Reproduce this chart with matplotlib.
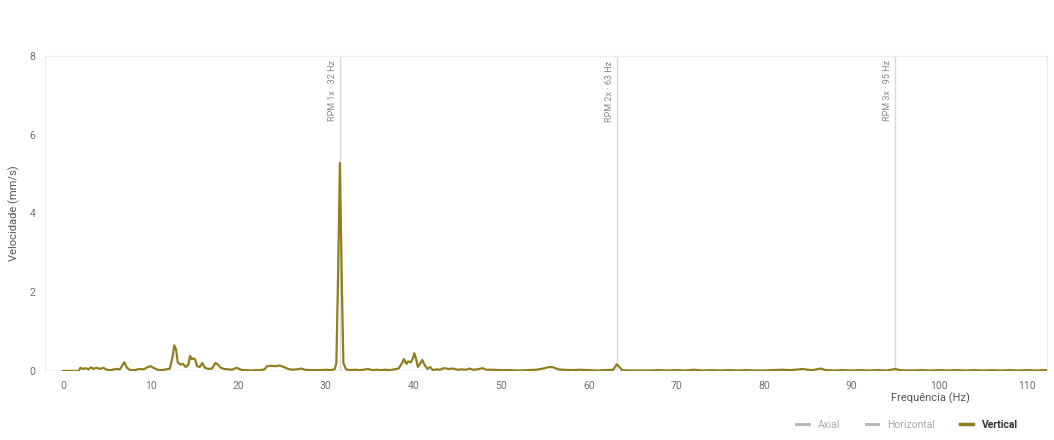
import matplotlib
matplotlib.use("Agg")
import matplotlib.pyplot as plt
from matplotlib.lines import Line2D

plt.rcParams["font.family"] = ["Roboto", "DejaVu Sans"]

freq = [0, 1.8, 2.0, 2.3, 2.6, 2.9, 3.2, 3.5, 3.8, 4.2, 4.6, 5.0, 5.5, 6.0, 6.5, 7.0, 7.3, 7.7,
        8.2, 8.7, 9.2, 9.7, 10.0, 10.4, 10.8, 11.3, 11.8, 12.2, 12.5, 12.7, 12.9, 13.1, 13.4,
        13.7, 14.0, 14.3, 14.5, 14.7, 14.9, 15.1, 15.3, 15.6, 15.9, 16.2, 16.6, 17.0, 17.4,
        17.7, 18.0, 18.4, 18.8, 19.3, 19.8, 20.1, 20.5, 21.0, 21.5, 22.0, 22.5, 23.0, 23.3,
        23.7, 24.2, 24.7, 25.2, 25.7, 26.2, 26.7, 27.2, 27.6, 28.2, 28.8, 29.4, 30.0, 30.5,
        31.0, 31.2, 31.4, 31.6, 31.8, 32.0, 32.3, 32.8, 33.3, 33.8, 34.3, 34.8, 35.3, 35.8,
        36.3, 36.8, 37.3, 37.8, 38.3, 38.7, 38.9, 39.2, 39.4, 39.7, 39.9, 40.1, 40.3, 40.5,
        40.8, 41.0, 41.3, 41.6, 41.9, 42.2, 42.6, 43.0, 43.5, 44.0, 44.5, 45.0, 45.5, 46.0,
        46.4, 46.8, 47.3, 47.9, 48.3, 49, 50, 51, 52, 53, 54, 54.8, 55.5, 56.0, 56.5, 57, 58,
        59, 60, 61, 62, 62.8, 63.2, 63.5, 63.8, 64.5, 65.5, 67, 68, 69, 70, 71, 72, 73, 74,
        75, 76, 77, 78, 79, 80, 81, 82, 83, 84, 84.5, 85, 85.5, 86, 86.5, 87, 88, 89, 90, 91,
        92, 93, 94, 95, 95.5, 96.5, 98, 99, 100, 101, 102, 103, 104, 105, 106, 107, 108,
        109, 110, 111, 112.3]
vertical = [0, 0, 0.08, 0.05, 0.07, 0.04, 0.09, 0.05, 0.08, 0.05, 0.08, 0.03, 0.02, 0.05, 0.04,
            0.22, 0.08, 0.02, 0.02, 0.05, 0.04, 0.1, 0.12, 0.07, 0.03, 0.02, 0.04, 0.06, 0.35,
            0.65, 0.55, 0.22, 0.16, 0.18, 0.1, 0.15, 0.38, 0.3, 0.32, 0.28, 0.12, 0.1, 0.2,
            0.08, 0.05, 0.06, 0.2, 0.16, 0.08, 0.05, 0.04, 0.03, 0.08, 0.05, 0.02, 0.02, 0.01,
            0.02, 0.02, 0.04, 0.12, 0.13, 0.12, 0.14, 0.1, 0.05, 0.03, 0.04, 0.06, 0.03, 0.02,
            0.02, 0.02, 0.03, 0.02, 0.04, 0.2, 2.5, 5.28, 2.5, 0.2, 0.04, 0.02, 0.03, 0.02,
            0.03, 0.05, 0.02, 0.03, 0.02, 0.03, 0.02, 0.04, 0.06, 0.2, 0.3, 0.18, 0.24, 0.22,
            0.3, 0.45, 0.3, 0.1, 0.2, 0.28, 0.14, 0.05, 0.1, 0.02, 0.04, 0.03, 0.07, 0.05,
            0.06, 0.03, 0.04, 0.03, 0.06, 0.03, 0.04, 0.07, 0.03, 0.03, 0.02, 0.02, 0.01, 0.02,
            0.03, 0.06, 0.1, 0.09, 0.04, 0.03, 0.02, 0.03, 0.02, 0.01, 0.02, 0.03, 0.17, 0.1,
            0.02, 0.01, 0.01, 0.01, 0.02, 0.01, 0.02, 0.01, 0.03, 0.01, 0.02, 0.01, 0.02, 0.01,
            0.02, 0.01, 0.01, 0.02, 0.03, 0.02, 0.04, 0.05, 0.03, 0.02, 0.04, 0.06, 0.02, 0.01,
            0.02, 0.01, 0.02, 0.01, 0.02, 0.01, 0.05, 0.02, 0.01, 0.02, 0.01, 0.02, 0.01, 0.02,
            0.01, 0.02, 0.01, 0.02, 0.01, 0.02, 0.01, 0.02, 0.01, 0.02]

rpm_freqs = [31.6, 63.2, 94.9]
rpm_labels = ["RPM 1x · 32 Hz", "RPM 2x · 63 Hz", "RPM 3x · 95 Hz"]
x_ticks = [0, 10, 20, 30, 40, 50, 60, 70, 80, 90, 100, 110]
y_ticks = [0, 2, 4, 6, 8]

line_color = "#917f1f"
tick_color = "#707070"

fig = plt.figure(figsize=(10.54, 4.4), dpi=100)
ax = fig.add_axes([0.0427, 0.157, 0.9507, 0.716])

for f, lab in zip(rpm_freqs, rpm_labels):
    ax.axvline(f, color="#d6d9dd", lw=1, zorder=1)
    ax.text(f - 0.3, 7.88, lab, rotation=90, ha="right", va="top",
            fontsize=6.5, color="#8a8a8a")

ax.plot(freq, vertical, color=line_color, lw=1.6, zorder=3)
ax.axhline(0, color="#cccccc", lw=1, zorder=2)

ax.set_xlim(-2.05, 112.3)
ax.set_ylim(0, 8)
ax.set_xticks(x_ticks)
ax.set_yticks(y_ticks)
ax.tick_params(length=0, labelsize=7.5, colors=tick_color, pad=7)
for s in ["top", "left", "right"]:
    ax.spines[s].set_color("#ececec")
    ax.spines[s].set_linewidth(0.8)
ax.spines["bottom"].set_visible(False)

ax.set_ylabel("Velocidade (mm/s)", fontsize=8, color="#555555", labelpad=7)
fig.text(0.883, 0.095, "Frequência (Hz)", ha="center", va="center",
         fontsize=8, color="#555555")

handles = [Line2D([], [], color="#b3b3b3", lw=2),
           Line2D([], [], color="#b3b3b3", lw=2),
           Line2D([], [], color=line_color, lw=2.5)]
leg = fig.legend(handles, ["Axial", "Horizontal", "Vertical"], loc="center right",
                 bbox_to_anchor=(0.975, 0.035), ncol=3, frameon=False, fontsize=7.5,
                 handlelength=1.2, columnspacing=2.4, handletextpad=0.9)
texts = leg.get_texts()
texts[0].set_color("#aaaaaa")
texts[1].set_color("#aaaaaa")
texts[2].set_color("#333333")
texts[2].set_fontweight("bold")

fig.savefig("out.png", dpi=100)
